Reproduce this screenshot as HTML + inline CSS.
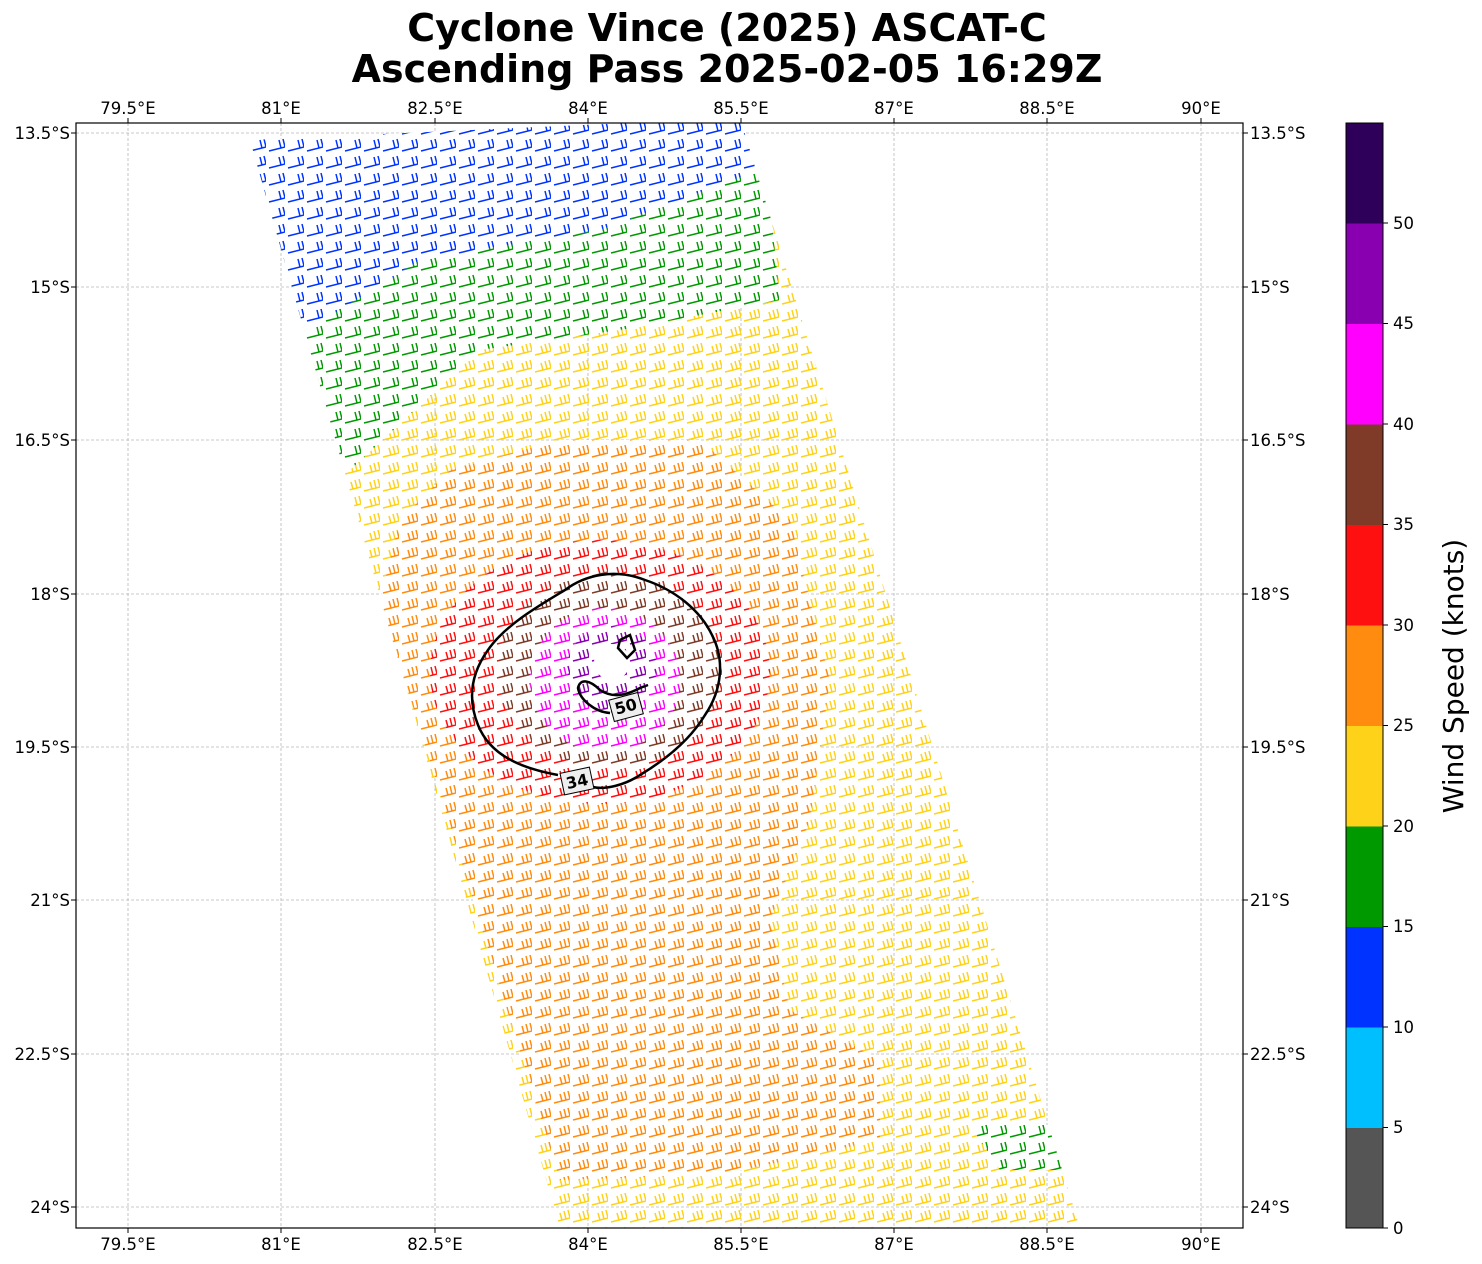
<!DOCTYPE html>
<html><head><meta charset="utf-8"><style>
body{margin:0;background:#fff;}
svg{display:block;font-family:"DejaVu Sans","Liberation Sans",sans-serif;}
</style></head><body>
<svg width="1482" height="1264" xmlns="http://www.w3.org/2000/svg">
<defs>
<clipPath id="cp"><rect x="76" y="123" width="1167" height="1105"/></clipPath>
<clipPath id="sw"><polygon points="250,140 740,118 1080,1228 560,1228"/></clipPath>
<pattern id="pY" width="19" height="17" patternUnits="userSpaceOnUse"><path d="M3,15 L19,11 L17,3 M15,12 L13,4 M11,13 L9,6" fill="none" stroke="#ffd21a" stroke-width="1.5"/></pattern>
<pattern id="pO" width="19" height="17" patternUnits="userSpaceOnUse"><path d="M3,15 L19,11 L17,3 M15,12 L13,4 M11,13 L9,6" fill="none" stroke="#ff8c0f" stroke-width="1.5"/></pattern>
<pattern id="pR" width="19" height="17" patternUnits="userSpaceOnUse"><path d="M3,15 L19,11 L17,3 M15,12 L13,4 M11,13 L9,6" fill="none" stroke="#ff1010" stroke-width="1.5"/></pattern>
<pattern id="pB" width="19" height="17" patternUnits="userSpaceOnUse"><path d="M3,15 L19,11 L17,3 M15,12 L13,4 M11,13 L9,6" fill="none" stroke="#7f3b28" stroke-width="1.5"/></pattern>
<pattern id="pM" width="19" height="17" patternUnits="userSpaceOnUse"><path d="M3,15 L19,11 L17,3 M15,12 L13,4 M11,13 L9,6" fill="none" stroke="#ff00ff" stroke-width="1.5"/></pattern>
<pattern id="pP" width="19" height="17" patternUnits="userSpaceOnUse"><path d="M3,15 L19,11 L17,3 M15,12 L13,4 M11,13 L9,6" fill="none" stroke="#8800b0" stroke-width="1.5"/></pattern>
<pattern id="pG" width="19" height="17" patternUnits="userSpaceOnUse"><path d="M3,15 L19,11 L17,3 M15,12 L13,4" fill="none" stroke="#009900" stroke-width="1.5"/></pattern>
<pattern id="pL" width="19" height="17" patternUnits="userSpaceOnUse"><path d="M3,15 L19,11 L17,3 M15,12 L13,4" fill="none" stroke="#0033ff" stroke-width="1.5"/></pattern>
</defs>
<rect width="1482" height="1264" fill="#fff"/>
<text x="727" y="41" font-size="38" font-weight="bold" text-anchor="middle">Cyclone Vince (2025) ASCAT-C</text>
<text x="727" y="82" font-size="38" font-weight="bold" text-anchor="middle">Ascending Pass 2025-02-05 16:29Z</text>
<g stroke="#b8b8b8" stroke-width="0.8" stroke-dasharray="3,2">
<line x1="128" y1="123" x2="128" y2="1228"/><line x1="281" y1="123" x2="281" y2="1228"/><line x1="435" y1="123" x2="435" y2="1228"/><line x1="588" y1="123" x2="588" y2="1228"/><line x1="741" y1="123" x2="741" y2="1228"/><line x1="894" y1="123" x2="894" y2="1228"/><line x1="1047" y1="123" x2="1047" y2="1228"/><line x1="1201" y1="123" x2="1201" y2="1228"/>
<line x1="76" y1="133" x2="1243" y2="133"/><line x1="76" y1="287" x2="1243" y2="287"/><line x1="76" y1="440" x2="1243" y2="440"/><line x1="76" y1="594" x2="1243" y2="594"/><line x1="76" y1="747" x2="1243" y2="747"/><line x1="76" y1="900" x2="1243" y2="900"/><line x1="76" y1="1054" x2="1243" y2="1054"/><line x1="76" y1="1207" x2="1243" y2="1207"/>
</g>
<g clip-path="url(#cp)"><g clip-path="url(#sw)">
<rect x="76" y="118" width="1167" height="1110" fill="url(#pY)"/>
<polygon points="240,110 760,110 780,300 620,330 480,350 350,470 240,470" fill="#fff"/>
<polygon points="240,110 760,110 780,300 620,330 480,350 350,470 240,470" fill="url(#pG)"/>
<polygon points="240,110 760,110 760,170 600,230 420,260 300,335 240,340" fill="#fff"/>
<polygon points="240,110 760,110 760,170 600,230 420,260 300,335 240,340" fill="url(#pL)"/>
<polygon points="450,470 560,440 700,440 790,520 830,680 810,820 770,920 790,1010 880,1060 880,1140 720,1175 560,1180 380,600 400,520" fill="#fff"/>
<polygon points="450,470 560,440 700,440 790,520 830,680 810,820 770,920 790,1010 880,1060 880,1140 720,1175 560,1180 380,600 400,520" fill="url(#pO)"/>
<ellipse cx="600" cy="672" rx="170" ry="132" fill="#fff"/>
<ellipse cx="600" cy="672" rx="170" ry="132" fill="url(#pR)"/>
<ellipse cx="610" cy="670" rx="112" ry="98" fill="#fff"/>
<ellipse cx="610" cy="670" rx="112" ry="98" fill="url(#pB)"/>
<ellipse cx="605" cy="680" rx="75" ry="72" fill="#fff"/>
<ellipse cx="605" cy="680" rx="75" ry="72" fill="url(#pM)"/>
<ellipse cx="612" cy="668" rx="45" ry="42" fill="#fff"/>
<ellipse cx="612" cy="668" rx="45" ry="42" fill="url(#pP)"/>
<ellipse cx="612" cy="662" rx="18" ry="18" fill="#fff"/>
<polygon points="970,1125 1060,1125 1065,1170 1000,1170" fill="#fff"/>
<polygon points="970,1125 1060,1125 1065,1170 1000,1170" fill="url(#pG)"/>
</g></g>
<g clip-path="url(#cp)" fill="none" stroke="#000" stroke-width="2.5">
<path d="M558,775 C520,768 490,755 478,725 C468,700 470,675 488,650 C505,625 540,605 565,590 C585,575 615,568 645,580 C675,590 700,610 712,635 C725,660 722,690 705,715 C690,740 665,760 640,775 C625,785 605,790 593,787"/>
<path d="M620,640 L630,635 L635,650 L627,658 L618,648 Z"/>
<path d="M610,713 C595,712 580,700 578,688 C580,678 590,680 600,690 C612,698 625,696 640,688 L648,685"/>
</g>
<g font-size="16" font-weight="bold" text-anchor="middle">
<rect x="562" y="770" width="30" height="22" fill="#eee" stroke="#000" transform="rotate(-12 577 781)"/>
<text x="577" y="787" transform="rotate(-12 577 781)">34</text>
<rect x="611" y="696" width="30" height="22" fill="#eee" stroke="#000" transform="rotate(-15 626 707)"/>
<text x="626" y="712" transform="rotate(-15 626 707)">50</text>
</g>
<rect x="76" y="123" width="1167" height="1105" fill="none" stroke="#000" stroke-width="1.2"/>
<g font-size="16.5" fill="#000" stroke="none">
<g text-anchor="middle">
<text x="128" y="114">79.5°E</text><text x="281" y="114">81°E</text><text x="435" y="114">82.5°E</text><text x="588" y="114">84°E</text><text x="741" y="114">85.5°E</text><text x="894" y="114">87°E</text><text x="1047" y="114">88.5°E</text><text x="1201" y="114">90°E</text>
<text x="128" y="1250">79.5°E</text><text x="281" y="1250">81°E</text><text x="435" y="1250">82.5°E</text><text x="588" y="1250">84°E</text><text x="741" y="1250">85.5°E</text><text x="894" y="1250">87°E</text><text x="1047" y="1250">88.5°E</text><text x="1201" y="1250">90°E</text>
</g>
<g text-anchor="end">
<text x="70" y="139">13.5°S</text><text x="70" y="293">15°S</text><text x="70" y="446">16.5°S</text><text x="70" y="600">18°S</text><text x="70" y="753">19.5°S</text><text x="70" y="906">21°S</text><text x="70" y="1060">22.5°S</text><text x="70" y="1213">24°S</text>
</g>
<text x="1250" y="139">13.5°S</text><text x="1250" y="293">15°S</text><text x="1250" y="446">16.5°S</text><text x="1250" y="600">18°S</text><text x="1250" y="753">19.5°S</text><text x="1250" y="906">21°S</text><text x="1250" y="1060">22.5°S</text><text x="1250" y="1213">24°S</text>
</g>
<g stroke="#000">
<path d="M128,123v-5M281,123v-5M435,123v-5M588,123v-5M741,123v-5M894,123v-5M1047,123v-5M1201,123v-5M128,1228v5M281,1228v5M435,1228v5M588,1228v5M741,1228v5M894,1228v5M1047,1228v5M1201,1228v5M76,133h-5M76,287h-5M76,440h-5M76,594h-5M76,747h-5M76,900h-5M76,1054h-5M76,1207h-5M1243,133h5M1243,287h5M1243,440h5M1243,594h5M1243,747h5M1243,900h5M1243,1054h5M1243,1207h5"/>
</g>
<g>
<rect x="1346" y="1127.5" width="37" height="101" fill="#555555"/>
<rect x="1346" y="1027" width="37" height="101" fill="#00bfff"/>
<rect x="1346" y="926.5" width="37" height="101" fill="#0033ff"/>
<rect x="1346" y="826" width="37" height="101" fill="#009900"/>
<rect x="1346" y="725.5" width="37" height="101" fill="#ffd21a"/>
<rect x="1346" y="625" width="37" height="101" fill="#ff8c0f"/>
<rect x="1346" y="524.5" width="37" height="101" fill="#ff1010"/>
<rect x="1346" y="424" width="37" height="101" fill="#7f3b28"/>
<rect x="1346" y="323.5" width="37" height="101" fill="#ff00ff"/>
<rect x="1346" y="223" width="37" height="101" fill="#8800b0"/>
<rect x="1346" y="123" width="37" height="100.5" fill="#2e0059"/>
<rect x="1346" y="123" width="37" height="1105" fill="none" stroke="#000"/>
<path stroke="#000" d="M1383,1228h5M1383,1127.5h5M1383,1027h5M1383,926.5h5M1383,826h5M1383,725.5h5M1383,625h5M1383,524.5h5M1383,424h5M1383,323.5h5M1383,223h5"/>
<g font-size="16.5">
<text x="1393" y="1234">0</text><text x="1393" y="1133">5</text><text x="1393" y="1033">10</text><text x="1393" y="932">15</text><text x="1393" y="832">20</text><text x="1393" y="731">25</text><text x="1393" y="631">30</text><text x="1393" y="530">35</text><text x="1393" y="430">40</text><text x="1393" y="329">45</text><text x="1393" y="229">50</text>
</g>
</g>
<text transform="translate(1463,676) rotate(-90)" font-size="28" text-anchor="middle">Wind Speed (knots)</text>
</svg>
</body></html>
